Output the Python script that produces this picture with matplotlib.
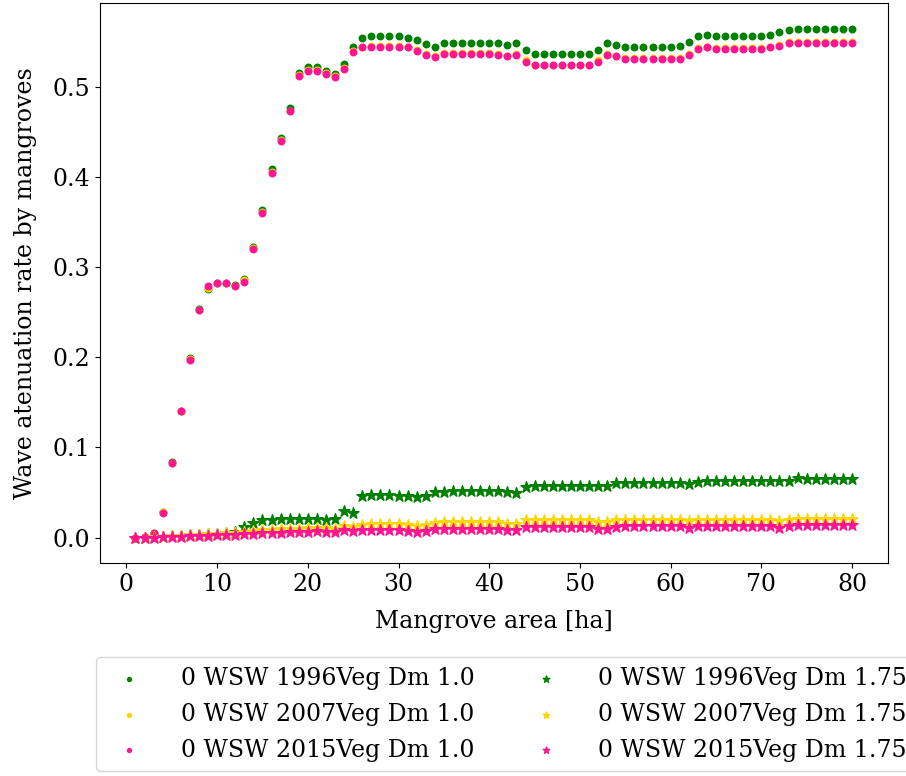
# Attenuazione onde da mangrovie
import numpy as np
import matplotlib.pyplot as plt

plt.rcParams['font.family'] = 'DejaVu Serif'
plt.rcParams['font.size'] = 17

area = np.arange(1, 81)

green_dot = [0.000, 0.001, 0.005, 0.028, 0.084, 0.141, 0.199, 0.254, 0.276, 0.283,
             0.283, 0.280, 0.287, 0.322, 0.364, 0.409, 0.444, 0.477, 0.516, 0.522,
             0.522, 0.518, 0.515, 0.526, 0.544, 0.555, 0.557, 0.557, 0.557, 0.557,
             0.555, 0.552, 0.548, 0.544, 0.549, 0.549, 0.549, 0.549, 0.549, 0.549,
             0.549, 0.547, 0.549, 0.541, 0.537, 0.537, 0.537, 0.537, 0.537, 0.537,
             0.537, 0.541, 0.549, 0.547, 0.544, 0.544, 0.544, 0.544, 0.544, 0.544,
             0.546, 0.550, 0.557, 0.558, 0.557, 0.557, 0.557, 0.557, 0.557, 0.557,
             0.558, 0.561, 0.563, 0.565, 0.565, 0.565, 0.565, 0.565, 0.565, 0.565]

gold_dot = [0.000, 0.001, 0.005, 0.028, 0.083, 0.140, 0.198, 0.253, 0.277, 0.283,
            0.283, 0.279, 0.286, 0.321, 0.361, 0.406, 0.441, 0.474, 0.513, 0.519,
            0.519, 0.516, 0.512, 0.521, 0.540, 0.545, 0.546, 0.546, 0.546, 0.546,
            0.545, 0.541, 0.537, 0.534, 0.538, 0.538, 0.538, 0.538, 0.538, 0.538,
            0.537, 0.535, 0.537, 0.530, 0.525, 0.525, 0.525, 0.525, 0.525, 0.525,
            0.525, 0.530, 0.537, 0.535, 0.532, 0.532, 0.532, 0.532, 0.532, 0.532,
            0.532, 0.537, 0.543, 0.545, 0.543, 0.543, 0.543, 0.543, 0.543, 0.543,
            0.545, 0.547, 0.550, 0.550, 0.550, 0.550, 0.550, 0.550, 0.550, 0.550]

pink_dot = [0.000, 0.001, 0.005, 0.027, 0.083, 0.140, 0.197, 0.253, 0.279, 0.283,
            0.283, 0.279, 0.284, 0.320, 0.360, 0.405, 0.440, 0.473, 0.512, 0.518,
            0.518, 0.515, 0.511, 0.520, 0.539, 0.544, 0.545, 0.545, 0.545, 0.545,
            0.544, 0.540, 0.536, 0.533, 0.537, 0.537, 0.537, 0.537, 0.537, 0.537,
            0.536, 0.534, 0.536, 0.528, 0.524, 0.524, 0.524, 0.524, 0.524, 0.524,
            0.524, 0.528, 0.536, 0.534, 0.531, 0.531, 0.531, 0.531, 0.531, 0.531,
            0.531, 0.536, 0.542, 0.544, 0.542, 0.542, 0.542, 0.542, 0.542, 0.542,
            0.544, 0.546, 0.549, 0.549, 0.549, 0.549, 0.549, 0.549, 0.549, 0.549]

green_star = [0.000, 0.000, 0.001, 0.001, 0.002, 0.002, 0.003, 0.003, 0.004, 0.004,
              0.005, 0.006, 0.012, 0.016, 0.019, 0.020, 0.021, 0.021, 0.021, 0.021,
              0.021, 0.020, 0.021, 0.029, 0.027, 0.046, 0.047, 0.047, 0.047, 0.046,
              0.046, 0.045, 0.046, 0.050, 0.051, 0.052, 0.052, 0.052, 0.052, 0.052,
              0.052, 0.050, 0.049, 0.056, 0.057, 0.057, 0.057, 0.057, 0.057, 0.057,
              0.057, 0.057, 0.057, 0.060, 0.061, 0.061, 0.061, 0.061, 0.061, 0.061,
              0.061, 0.059, 0.062, 0.063, 0.063, 0.063, 0.063, 0.063, 0.063, 0.063,
              0.063, 0.063, 0.063, 0.066, 0.065, 0.065, 0.065, 0.065, 0.065, 0.065]

gold_star = [0.000, 0.000, 0.001, 0.001, 0.002, 0.002, 0.003, 0.003, 0.004, 0.004,
             0.005, 0.005, 0.006, 0.007, 0.008, 0.008, 0.009, 0.009, 0.010, 0.011,
             0.011, 0.011, 0.010, 0.013, 0.012, 0.014, 0.015, 0.015, 0.015, 0.015,
             0.014, 0.013, 0.014, 0.016, 0.017, 0.017, 0.017, 0.017, 0.017, 0.017,
             0.017, 0.015, 0.015, 0.019, 0.019, 0.019, 0.019, 0.019, 0.019, 0.019,
             0.019, 0.017, 0.017, 0.019, 0.020, 0.020, 0.020, 0.020, 0.020, 0.020,
             0.020, 0.018, 0.020, 0.020, 0.020, 0.020, 0.020, 0.020, 0.020, 0.020,
             0.020, 0.018, 0.020, 0.021, 0.021, 0.021, 0.021, 0.021, 0.021, 0.021]

pink_star = [0.000, 0.000, 0.000, 0.001, 0.001, 0.001, 0.002, 0.002, 0.002, 0.003,
             0.003, 0.003, 0.004, 0.004, 0.005, 0.005, 0.005, 0.006, 0.006, 0.006,
             0.007, 0.006, 0.006, 0.008, 0.007, 0.008, 0.008, 0.008, 0.008, 0.008,
             0.007, 0.006, 0.007, 0.009, 0.010, 0.010, 0.010, 0.010, 0.010, 0.010,
             0.010, 0.008, 0.008, 0.012, 0.012, 0.012, 0.012, 0.012, 0.012, 0.012,
             0.012, 0.010, 0.010, 0.012, 0.013, 0.013, 0.013, 0.013, 0.013, 0.013,
             0.013, 0.011, 0.013, 0.013, 0.013, 0.013, 0.013, 0.013, 0.013, 0.013,
             0.013, 0.011, 0.013, 0.014, 0.014, 0.014, 0.014, 0.014, 0.014, 0.014]

fig = plt.figure(figsize=(9.06, 7.76), dpi=100)
ax = fig.add_axes([0.110, 0.2745, 0.870, 0.7215])

ax.scatter(area, green_dot, s=22, color='green', label='0 WSW 1996Veg Dm 1.0')
ax.scatter(area, gold_dot, s=22, color='gold', label='0 WSW 2007Veg Dm 1.0')
ax.scatter(area, pink_dot, s=22, color='deeppink', label='0 WSW 2015Veg Dm 1.0')
ax.scatter(area, green_star, s=70, marker='*', color='green', label='0 WSW 1996Veg Dm 1.75')
ax.scatter(area, gold_star, s=70, marker='*', color='gold', label='0 WSW 2007Veg Dm 1.75')
ax.scatter(area, pink_star, s=70, marker='*', color='deeppink', label='0 WSW 2015Veg Dm 1.75')

ax.set_xlabel('Mangrove area [ha]', labelpad=10)
ax.set_ylabel('Wave atenuation rate by mangroves', labelpad=11)

fig.legend(loc='upper left', bbox_to_anchor=(0.106, 0.153), ncol=2, borderaxespad=0,
           markerscale=0.6, columnspacing=2.0, labelspacing=0.55, handletextpad=1.2)

fig.savefig('out.png', dpi=100)
